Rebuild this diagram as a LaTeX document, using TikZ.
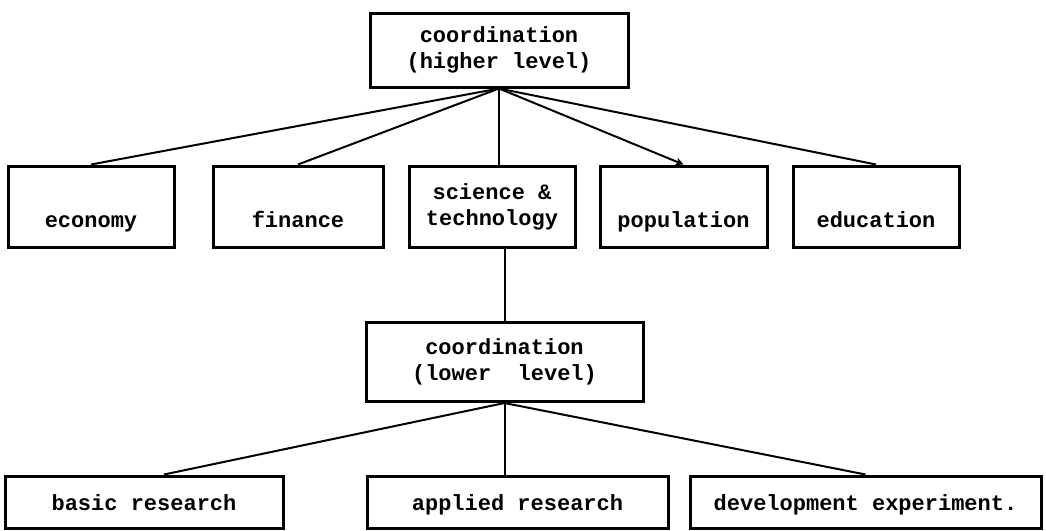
\documentclass[tikz,border=0pt]{standalone}
\usepackage{fontspec}
\setmonofont{Liberation Mono}
\usepackage{tikz}
\usetikzlibrary{arrows.meta}
\tikzset{
    every picture/.append style={
        >={Stealth[length=4pt,width=4pt]}
    },
    block/.style={draw=black, line width=1.5pt, inner sep=0pt, align=center,
        font=\ttfamily\bfseries\fontsize{11}{13}\selectfont},
    lowtext/.style={text height=30.5pt, text depth=10pt},
    bottomtext/.style={text height=17pt, text depth=9pt},
    link/.style={line width=1pt}
}
\begin{document}
\begin{tikzpicture}[x=0.5pt, y=-0.5pt]
		\useasboundingbox (0,0) rectangle (1046,531);
		\node[block, minimum width=129pt, minimum height=37pt] (higher) at (499,50) {coordination\\(higher level)};
		
		\node[block, lowtext, minimum width=83pt] (economy) at (91,206.5) {economy};
		\node[block, lowtext, minimum width=85pt] (finance) at (298,206.5) {finance};
		\node[block, minimum width=83pt, minimum height=40.5pt] (science) at (492,206.5) {science \&\\technology};
		\node[block, lowtext, minimum width=83.5pt] (population) at (683.5,206.5) {population};
		\node[block, lowtext, minimum width=83pt] (education) at (876,206.5) {education};
		
		\node[block, minimum width=138.5pt, minimum height=39.5pt] (lower) at (504.5,362) {coordination\\(lower~~level)};
		
		\node[block, bottomtext, minimum width=139pt] (basic) at (144,502) {basic research};
		\node[block, bottomtext, minimum width=150.5pt] (applied) at (517.5,502) {applied research};
		\node[block, bottomtext, minimum width=175.5pt] (development) at (865.5,502) {development experiment.};
		
		\path [link] (higher.south) edge (economy.north);
		\path [link] (higher.south) edge (finance.north);
		\path [link] (higher.south) edge (higher.south |- science.north);
		\path [link,->] (higher.south) edge (population.north);
		\path [link] (higher.south) edge (education.north);
		\path [link] (science.south -| lower.north) edge (lower.north);
		\path [link] (lower.south) edge ([xshift=10pt]basic.north);
		\path [link] (lower.south) edge (lower.south |- applied.north);
		\path [link] (lower.south) edge (development.north);
		\end{tikzpicture}
\end{document}
